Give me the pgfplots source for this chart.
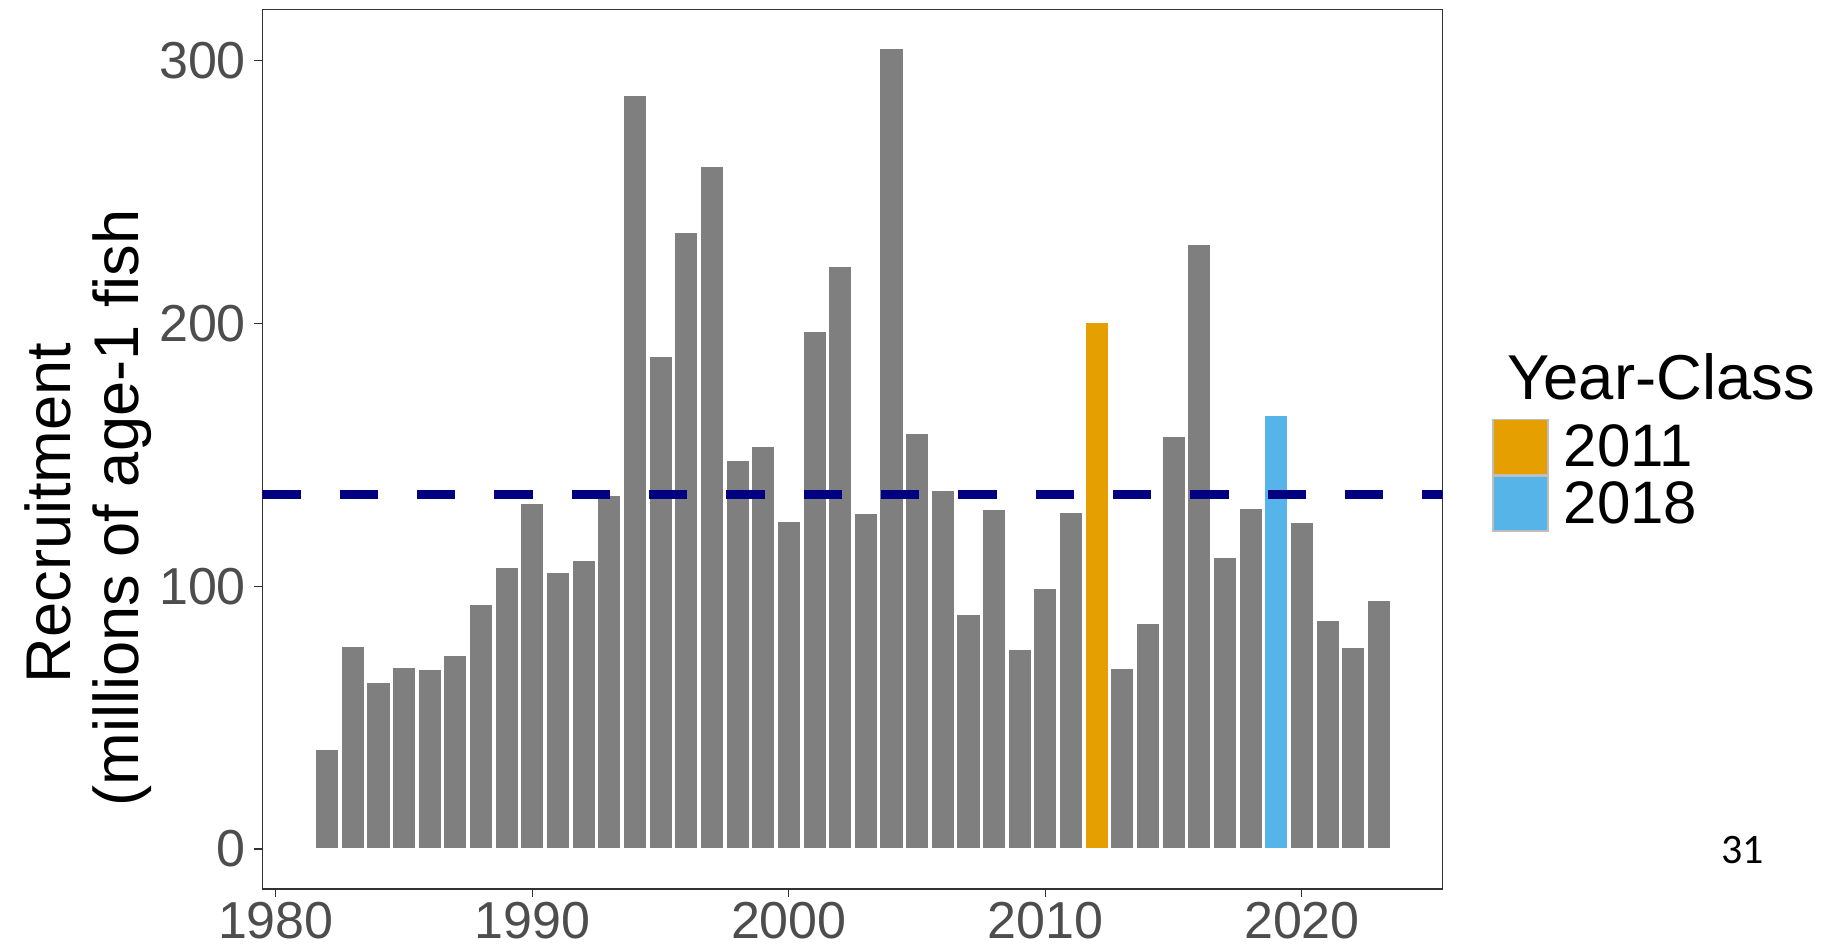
\documentclass[border=0pt]{standalone}
\usepackage{fontspec}
\setmainfont{Liberation Sans}
\newfontfamily\slidefont{Carlito}
\usepackage{pgfplots}
\pgfplotsset{compat=1.18}

\definecolor{barGray}{HTML}{7F7F7F}
\definecolor{yc2011}{HTML}{E69F00}
\definecolor{yc2018}{HTML}{56B4E9}
\definecolor{meanBlue}{HTML}{000080}
\definecolor{frameGray}{HTML}{333333}
\definecolor{tickGray}{HTML}{4D4D4D}
\definecolor{keyBorder}{HTML}{BEBEBE}

\pgfplotsset{
  recbar/.style={ybar, bar width=0.9, bar shift=0pt, draw=white, line width=0.5pt},
  keybox/.style={legend image code/.code={
      \draw[##1, draw=keyBorder, line width=0.8pt] (0pt,-13.75pt) rectangle (27.5pt,13.75pt);}},
}

\begin{document}
\begin{tikzpicture}[x=1pt,y=1pt]
\useasboundingbox (0,0) rectangle (915.5,473.5);
\begin{axis}[
  at={(131.15pt,29pt)}, anchor=south west,
  scale only axis, width=590.1pt, height=439.85pt,
  xmin=1979.47, xmax=2025.48, ymin=-15.22, ymax=319.5,
  xtick={1980,1990,2000,2010,2020}, ytick={0,100,200,300},
  xtick pos=left, ytick pos=left,
  tick align=outside, major tick length=4pt,
  axis line style={draw=frameGray, line width=0.55pt},
  major tick style={draw=frameGray, line width=0.55pt},
  /pgf/number format/assume math mode=true,
  /pgf/number format/1000 sep={},
  tick label style={font=\fontsize{26}{30}\selectfont, text=tickGray, inner sep=0pt},
  xticklabel style={anchor=north, yshift=-2.5pt},
  yticklabel style={anchor=east, xshift=-4pt},
  legend style={at={(1.04168,0.53507)}, anchor=north west, draw=none, fill=none,
    inner sep=0pt, row sep=0pt, font=\fontsize{30}{36}\selectfont,
    nodes={inner sep=0pt}, /tikz/every odd column/.style={column sep=7.5pt}},
  legend cell align=left,
]
\addplot[recbar, fill=barGray, forget plot] coordinates {
  (1982,37.9) (1983,77.1) (1984,63.3) (1985,69.1) (1986,68.4) (1987,73.6)
  (1988,93.1) (1989,107.1) (1990,131.5) (1991,105.2) (1992,109.6) (1993,134.5)
  (1994,286.8) (1995,187.3) (1996,234.7) (1997,259.5) (1998,147.9) (1999,153.0)
  (2000,124.7) (2001,197.0) (2002,221.8) (2003,127.6) (2004,304.7) (2005,158.0)
  (2006,136.4) (2007,89.2) (2008,129.1) (2009,76.0) (2010,99.3) (2011,128.1)
  (2013,68.8) (2014,85.7) (2015,156.9) (2016,230.1) (2017,110.9) (2018,129.4)
  (2020,124.3) (2021,86.8) (2022,76.5) (2023,94.6)
};
\addplot[recbar, fill=yc2011, keybox] coordinates {(2012,200.2)};
\addlegendentry{2011}
\addplot[recbar, fill=yc2018, keybox] coordinates {(2019,164.8)};
\addlegendentry{2018}
\addplot[meanBlue, line width=4.35pt, dash pattern=on 19.2pt off 19.47pt, forget plot]
  coordinates {(1979.47,134.8) (2025.48,134.8)};
\end{axis}
\node[rotate=90, anchor=base, font=\fontsize{31.6}{38}\selectfont] at (35pt,217pt) {Recruitment};
\node[rotate=90, anchor=base, font=\fontsize{31.6}{38}\selectfont] at (69pt,219.5pt) {(millions of age-1 fish};
\node[anchor=base west, font=\fontsize{31.7}{38}\selectfont] at (750pt,273.85pt) {Year-Class};
\node[anchor=base, font=\slidefont\fontsize{21}{25}\selectfont] at (871.25pt,41.85pt) {31};
\end{tikzpicture}
\end{document}
